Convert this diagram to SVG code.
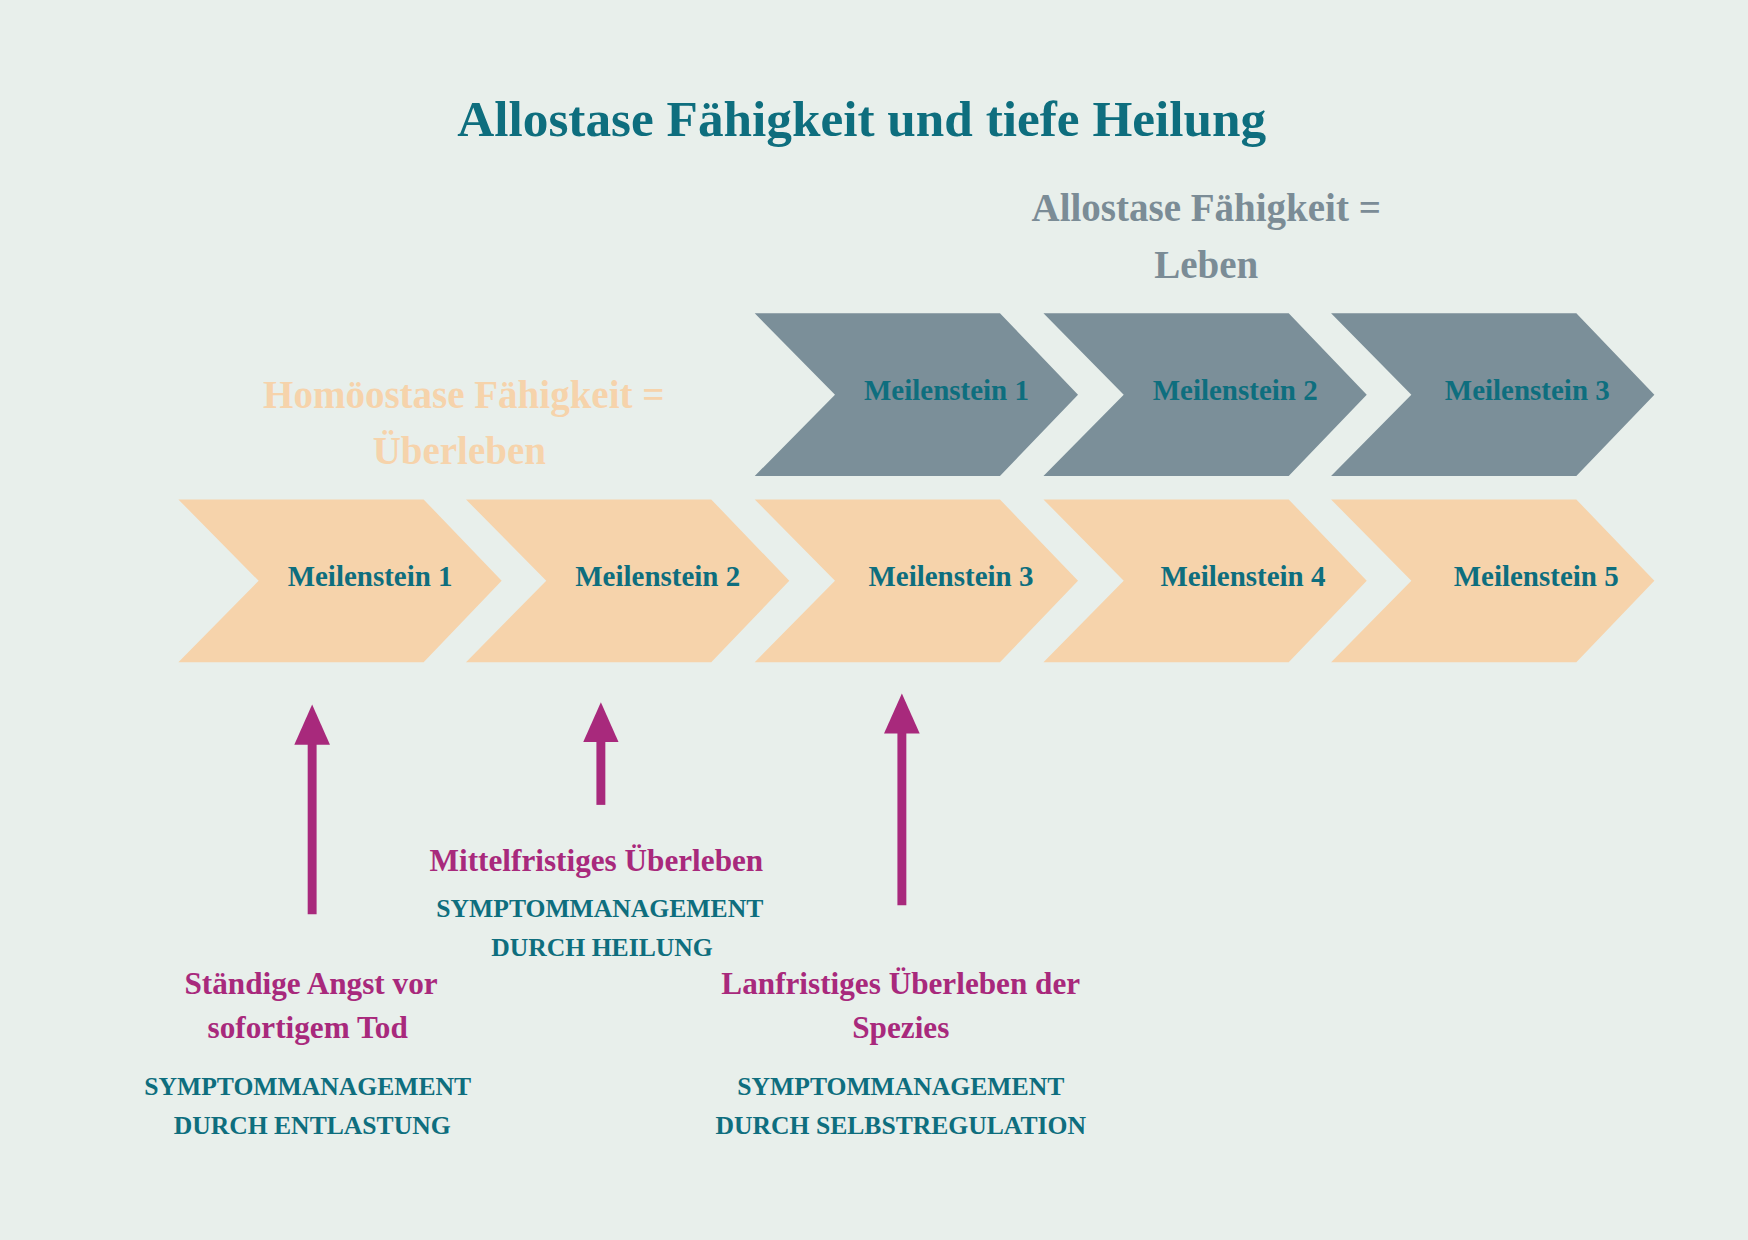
<svg xmlns="http://www.w3.org/2000/svg" width="1748" height="1240" viewBox="0 0 1748 1240">
<style>
.t{font-family:"Liberation Serif",serif;font-weight:bold;text-anchor:middle}
.ml{fill:#0e6e7e;font-size:26px}
.pk{fill:#a8297c;font-size:28px}
.sm{fill:#0e6e7e;font-size:23px}
.peach{fill:#f6d3ab}
.gray{fill:#7b8f99}
.arr{stroke:#a8297c;stroke-width:8;fill:none}
</style>
<defs>
<path id="chev" d="M0,0 H220 L290,73 L220,146 H0 L72,73 Z"/>
<marker id="ah" markerWidth="5" markerHeight="4" refX="1" refY="2" orient="auto" markerUnits="strokeWidth"><path d="M0,0 L4.5,2 L0,4 Z" fill="#a8297c"/></marker>
</defs>
<rect width="1748" height="1240" fill="#e8efeb"/>
<g transform="scale(1.1148)">
<text class="t" x="773" y="122" style="fill:#0e6e7e;font-size:46px">Allostase Fähigkeit und tiefe Heilung</text>
<g id="label-allostase"><text class="t" x="1082" y="198" style="fill:#7b8c96;font-size:35px">Allostase Fähigkeit =</text><text class="t" x="1082" y="249" style="fill:#7b8c96;font-size:35px">Leben</text></g>
<g id="label-homoeostase"><text class="t" x="416" y="366" style="fill:#f6d3ab;font-size:35px">Homöostase Fähigkeit =</text><text class="t" x="412" y="416" style="fill:#f6d3ab;font-size:35px">Überleben</text></g>
<g id="a1"><use href="#chev" class="gray" x="677" y="281"/><text class="t ml" x="849" y="359">Meilenstein 1</text></g>
<g id="a2"><use href="#chev" class="gray" x="936" y="281"/><text class="t ml" x="1108" y="359">Meilenstein 2</text></g>
<g id="a3"><use href="#chev" class="gray" x="1194" y="281"/><text class="t ml" x="1370" y="359">Meilenstein 3</text></g>
<g id="h1"><use href="#chev" class="peach" x="160" y="448"/><text class="t ml" x="332" y="526">Meilenstein 1</text></g>
<g id="h2"><use href="#chev" class="peach" x="418" y="448"/><text class="t ml" x="590" y="526">Meilenstein 2</text></g>
<g id="h3"><use href="#chev" class="peach" x="677" y="448"/><text class="t ml" x="853" y="526">Meilenstein 3</text></g>
<g id="h4"><use href="#chev" class="peach" x="936" y="448"/><text class="t ml" x="1115" y="526">Meilenstein 4</text></g>
<g id="h5"><use href="#chev" class="peach" x="1194" y="448"/><text class="t ml" x="1378" y="526">Meilenstein 5</text></g>
<g id="connectors">
<path class="arr" d="M280,820 V660" marker-end="url(#ah)"/>
<path class="arr" d="M539,722 V658" marker-end="url(#ah)"/>
<path class="arr" d="M809,812 V650" marker-end="url(#ah)"/>
</g>
<g id="n1"><text class="t pk" x="279" y="892">Ständige Angst vor</text><text class="t pk" x="276" y="931">sofortigem Tod</text><text class="t sm" x="276" y="982">SYMPTOMMANAGEMENT</text><text class="t sm" x="280" y="1017">DURCH ENTLASTUNG</text></g>
<g id="n2"><text class="t pk" x="535" y="781">Mittelfristiges Überleben</text><text class="t sm" x="538" y="823">SYMPTOMMANAGEMENT</text><text class="t sm" x="540" y="858">DURCH HEILUNG</text></g>
<g id="n3"><text class="t pk" x="808" y="892">Lanfristiges Überleben der</text><text class="t pk" x="808" y="931">Spezies</text><text class="t sm" x="808" y="982">SYMPTOMMANAGEMENT</text><text class="t sm" x="808" y="1017">DURCH SELBSTREGULATION</text></g>
</g>
</svg>
